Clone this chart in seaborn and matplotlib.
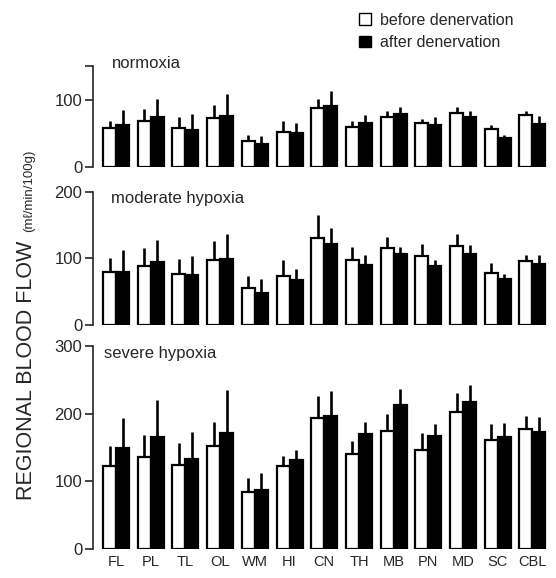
import matplotlib
matplotlib.use("Agg")
import matplotlib.pyplot as plt
from matplotlib.patches import Patch
import numpy as np
import pandas as pd
import seaborn as sns

# ---------------- data ----------------
regions = ['FL', 'PL', 'TL', 'OL', 'WM', 'HI', 'CN', 'TH', 'MB', 'PN', 'MD', 'SC', 'CBL']
conditions = ['normoxia', 'moderate hypoxia', 'severe hypoxia']
groups = ['before denervation', 'after denervation']

normoxia_before = [58, 68, 58, 73, 39, 53, 88, 60, 75, 65, 80, 56, 77]
normoxia_before_err = [11, 18, 16, 19, 9, 15, 14, 8, 8, 6, 9, 7, 7]
normoxia_after = [63, 74, 55, 76, 35, 51, 91, 66, 79, 63, 74, 43, 64]
normoxia_after_err = [22, 27, 24, 33, 11, 15, 22, 12, 11, 12, 9, 5, 12]

moderate_before = [79, 88, 77, 98, 55, 73, 131, 97, 115, 103, 119, 78, 96]
moderate_before_err = [22, 27, 22, 28, 18, 25, 34, 20, 17, 18, 18, 15, 9]
moderate_after = [80, 95, 75, 99, 48, 67, 122, 90, 106, 88, 106, 69, 91]
moderate_after_err = [33, 33, 29, 37, 21, 17, 24, 15, 11, 10, 14, 8, 14]

severe_before = [123, 136, 124, 152, 84, 123, 193, 141, 175, 147, 203, 161, 178]
severe_before_err = [30, 33, 32, 36, 21, 14, 33, 19, 25, 25, 27, 24, 18]
severe_after = [150, 165, 133, 172, 87, 132, 197, 170, 213, 167, 218, 165, 173]
severe_after_err = [43, 55, 40, 63, 26, 15, 37, 18, 23, 18, 25, 22, 22]

y_max = [150, 200, 300]
y_ticks = [[0, 100, 150], [0, 100, 200], [0, 100, 200, 300]]
y_ticklabels = [['0', '100', ''], ['0', '100', '200'], ['0', '100', '200', '300']]

panel_data = [
    (normoxia_before, normoxia_before_err, normoxia_after, normoxia_after_err),
    (moderate_before, moderate_before_err, moderate_after, moderate_after_err),
    (severe_before, severe_before_err, severe_after, severe_after_err),
]

# ---------------- style ----------------
sns.set_style('ticks')
plt.rcParams['font.family'] = ['Liberation Sans', 'DejaVu Sans']
plt.rcParams['axes.linewidth'] = 1.2

fig = plt.figure(figsize=(5.56, 5.78), dpi=100)
positions = [
    [0.167, 0.711, 0.828, 0.174],
    [0.167, 0.4377, 0.828, 0.2303],
    [0.167, 0.0502, 0.828, 0.351],
]
title_pos = [(0.042, 0.985), (0.04, 0.917), (0.024, 0.94)]
palette = {'before denervation': 'white', 'after denervation': 'black'}

for i, (cond, (b, be, a, ae)) in enumerate(zip(conditions, panel_data)):
    ax = fig.add_axes(positions[i])
    df = pd.DataFrame({
        'region': regions * 2,
        'group': [groups[0]] * len(regions) + [groups[1]] * len(regions),
        'flow': list(b) + list(a),
    })
    sns.barplot(data=df, x='region', y='flow', hue='group', order=regions,
                hue_order=groups, palette=palette, edgecolor='black',
                linewidth=1.6, width=0.75, gap=0, errorbar=None, legend=False,
                ax=ax)
    # error bars (upper only) at the bar centres computed by seaborn
    for container, errs in zip(ax.containers, [be, ae]):
        xs = [p.get_x() + p.get_width() / 2 for p in container.patches]
        ys = [p.get_height() for p in container.patches]
        ax.errorbar(xs, ys, yerr=[np.zeros(len(errs)), errs], fmt='none',
                    ecolor='black', elinewidth=1.9, capsize=0, zorder=1)
    ax.set_xlim(-0.67, 12.6)
    ax.set_ylim(0, y_max[i])
    ax.set_yticks(y_ticks[i])
    ax.set_yticklabels(y_ticklabels[i])
    ax.set_xlabel('')
    ax.set_ylabel('')
    for s in ['top', 'right', 'bottom']:
        ax.spines[s].set_visible(False)
    ax.spines['left'].set_linewidth(1.2)
    ax.tick_params(axis='y', direction='out', length=6, width=1.2,
                   labelsize=12, pad=1.5)
    ax.tick_params(axis='x', length=0, labelsize=10.5, pad=4)
    if i < 2:
        ax.set_xticklabels([])
    ax.patch.set_alpha(0)
    ax.text(title_pos[i][0], title_pos[i][1], cond, transform=ax.transAxes,
            ha='left', va='baseline', fontsize=12)

# y-axis label
fig.text(32 / 556, 1 - 500 / 578, 'REGIONAL BLOOD FLOW', rotation=90,
         rotation_mode='anchor', ha='left', va='baseline', fontsize=15.5)
fig.text(32 / 556, 1 - 232 / 578, '(m\u2113/min/100g)', rotation=90,
         rotation_mode='anchor', ha='left', va='baseline', fontsize=9.5)

# legend
handles = [Patch(facecolor='white', edgecolor='black', linewidth=1.0, label=groups[0]),
           Patch(facecolor='black', edgecolor='black', linewidth=1.0, label=groups[1])]
fig.legend(handles=handles, loc='upper left', bbox_to_anchor=(0.622, 1.0),
           frameon=False, fontsize=11.5, handlelength=0.75, handleheight=0.75,
           handletextpad=0.6, labelspacing=0.45, borderpad=0.3)

fig.savefig('out.png', dpi=100, facecolor='white')
